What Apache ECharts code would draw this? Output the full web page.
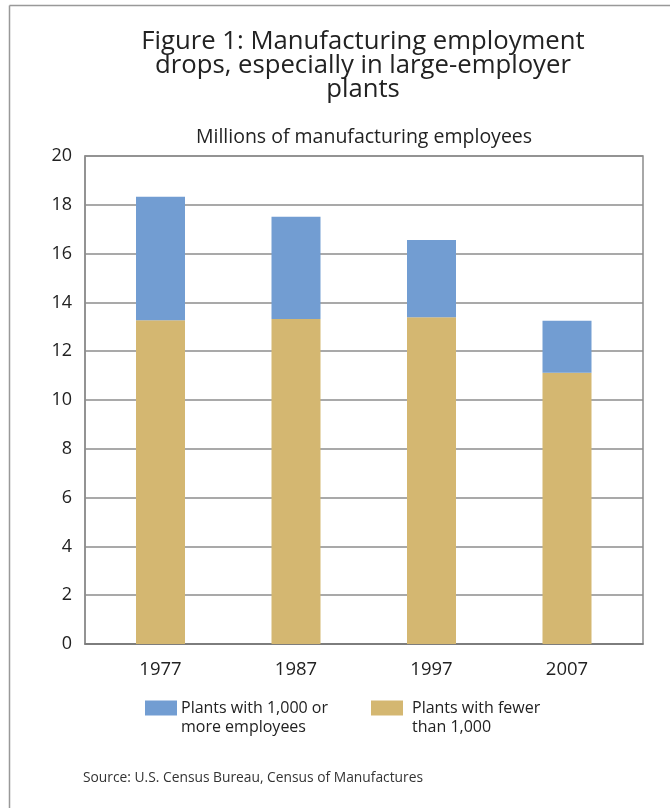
<!DOCTYPE html>
<html>
<head>
<meta charset="utf-8">
<script src="https://cdn.jsdelivr.net/npm/echarts@6/dist/echarts.min.js"></script>
<style>
  html, body { margin: 0; padding: 0; background: #fff; }
  #chart { width: 670px; height: 808px; }
</style>
</head>
<body>
<div id="chart"></div>
<script>
// Census years shown on the horizontal axis
const years = ['1977', '1987', '1997', '2007'];
// Employees (millions) in plants with 1,000 or more employees
const largePlants = [5.06, 4.19, 3.17, 2.13];
// Employees (millions) in plants with fewer than 1,000 employees
const smallPlants = [13.27, 13.32, 13.39, 11.12];
// Vertical axis range and step
const yMin = 0, yMax = 20, yStep = 2;

const seriesNames = ['Plants with 1,000 or more employees', 'Plants with fewer than 1,000'];
const legendLines = [['Plants with 1,000 or', 'more employees'], ['Plants with fewer', 'than 1,000']];

const FONT = '"Open Sans", "Noto Sans", sans-serif';
const BLUE = '#729dd2';
const TAN = '#d4b771';
const GRID = '#8c8c8c';
const TEXT = '#222';

const chart = echarts.init(document.getElementById('chart'), null, { renderer: 'canvas' });

// Legend entries: swatch sits beside the first line of a two-line label
function legendFor(idx, left, color, gap) {
  return {
    data: [seriesNames[idx]],
    left: left, top: 698.5, padding: 0,
    icon: 'none', itemWidth: 0, itemHeight: 0, itemGap: 0,
    selectedMode: false,
    formatter: () => '{sw|}{sp|}{t|' + legendLines[idx][0] + '}\n{ind|}{t|' + legendLines[idx][1] + '}',
    textStyle: {
      fontFamily: FONT, fontSize: 16, color: TEXT, lineHeight: 19,
      rich: {
        sw: { width: 32, height: 15, backgroundColor: color, verticalAlign: 'middle' },
        sp: { width: gap, height: 15 },
        ind: { width: 32 + gap, height: 15 },
        t: { fontFamily: FONT, fontSize: 16, color: TEXT, lineHeight: 19, verticalAlign: 'middle' }
      }
    }
  };
}

chart.setOption({
  backgroundColor: '#fff',
  animation: false,
  title: [
    {
      text: 'Figure 1: Manufacturing employment\ndrops, especially in large-employer\nplants',
      left: 358, top: 25, textAlign: 'center',
      textStyle: { fontFamily: FONT, fontSize: 25.7, fontWeight: 'normal', color: TEXT, lineHeight: 24 }
    },
    {
      text: 'Millions of manufacturing employees',
      left: 359, top: 122, textAlign: 'center',
      textStyle: { fontFamily: FONT, fontSize: 19.5, fontWeight: 'normal', color: TEXT }
    },
    {
      text: 'Source: U.S. Census Bureau, Census of Manufactures',
      left: 78, top: 766,
      textStyle: { fontFamily: FONT, fontSize: 13.8, fontWeight: 'normal', color: '#333' }
    }
  ],
  legend: [legendFor(0, 140, BLUE, 4), legendFor(1, 366, TAN, 9)],
  grid: [
    // plot frame with value gridlines
    { left: 85, top: 156, width: 558, height: 488, show: true, borderColor: GRID, borderWidth: 1.5 },
    // bar layout area: category slots
    { left: 92.75, top: 156, width: 542, height: 488 }
  ],
  xAxis: [
    {
      gridIndex: 0, type: 'value', min: 0, max: 1,
      axisLine: { show: true, lineStyle: { color: '#777', width: 1.5 } },
      axisTick: { show: false }, axisLabel: { show: false }, splitLine: { show: false }
    },
    {
      gridIndex: 1, type: 'category', data: years,
      axisLine: { show: false }, axisTick: { show: false },
      axisLabel: { margin: 16, fontFamily: FONT, fontSize: 18.5, color: TEXT }
    }
  ],
  yAxis: [
    {
      gridIndex: 0, type: 'value', min: yMin, max: yMax, interval: yStep,
      axisLine: { show: true, onZero: false, lineStyle: { color: GRID, width: 1.5 } },
      axisTick: { show: false },
      splitLine: { show: true, lineStyle: { color: GRID, width: 1.5 } },
      axisLabel: { margin: 13, fontFamily: FONT, fontSize: 18, color: TEXT, padding: [3, 0, 0, 0] }
    },
    {
      gridIndex: 1, type: 'value', min: yMin, max: yMax, interval: yStep,
      show: false
    }
  ],
  series: [
    {
      name: seriesNames[1], type: 'bar', stack: 'total', barWidth: 49,
      xAxisIndex: 1, yAxisIndex: 1,
      itemStyle: { color: TAN },
      data: smallPlants
    },
    {
      name: seriesNames[0], type: 'bar', stack: 'total', barWidth: 49,
      xAxisIndex: 1, yAxisIndex: 1,
      itemStyle: { color: BLUE },
      data: largePlants
    }
  ],
  graphic: [
    // frame lines along the top and left edges of the figure
    { type: 'line', shape: { x1: 9.5, y1: 5.5, x2: 670, y2: 5.5 }, style: { stroke: '#999', lineWidth: 1.5 }, silent: true },
    { type: 'line', shape: { x1: 9.5, y1: 5.5, x2: 9.5, y2: 808 }, style: { stroke: '#999', lineWidth: 1.5 }, silent: true }
  ]
});
</script>
</body>
</html>
